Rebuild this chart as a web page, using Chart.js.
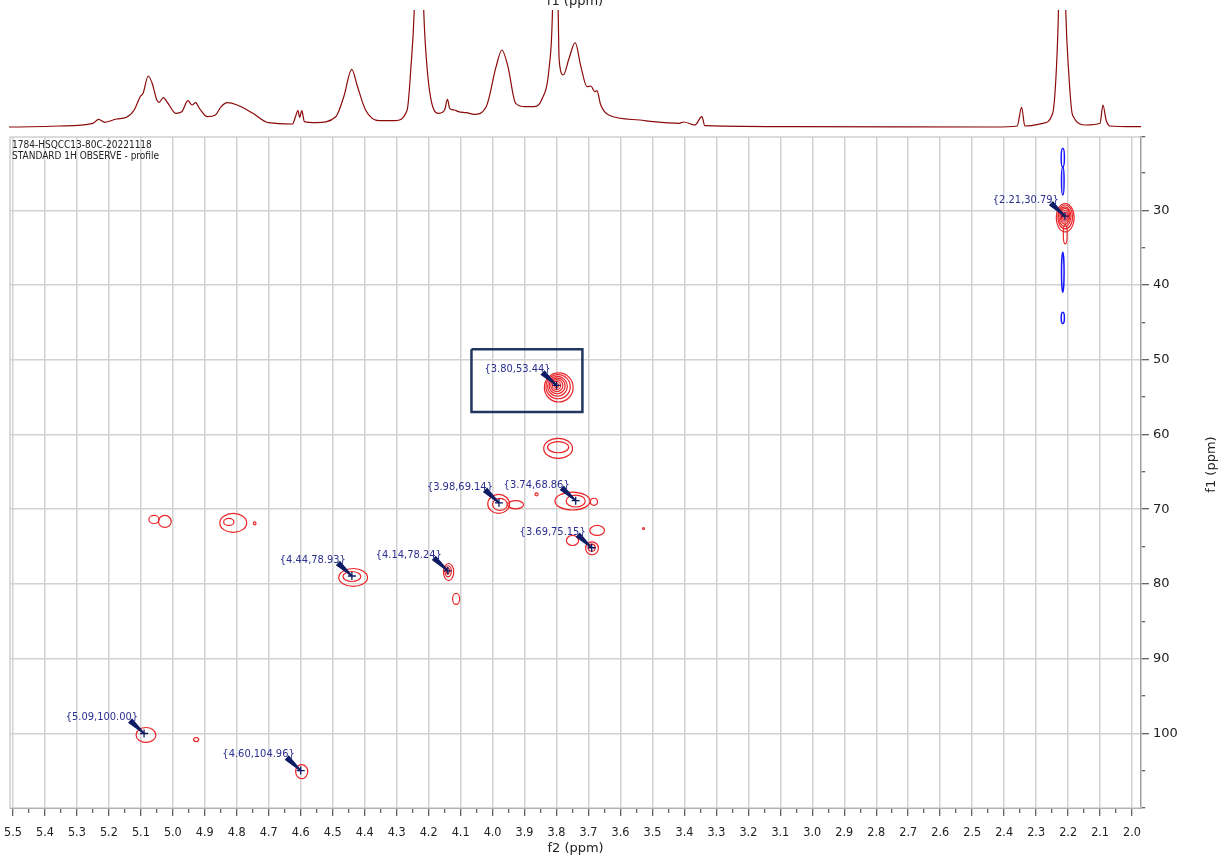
<!DOCTYPE html>
<html>
<head>
<meta charset="utf-8">
<script src="https://cdn.jsdelivr.net/npm/chart.js@4/dist/chart.umd.min.js"></script>
<style>
  html, body { margin: 0; padding: 0; background: #fff; overflow: hidden; }
  #wrap { position: relative; width: 1224px; height: 858px; overflow: hidden; }
  #mapBox { position: absolute; left: -5px; top: 0; width: 1229px; height: 858px; }
  #specBox { position: absolute; left: 0; top: 0; width: 1224px; height: 137px; }
</style>
</head>
<body>
<div id="wrap">
  <div id="mapBox"><canvas id="hsqc"></canvas></div>
  <div id="specBox"><canvas id="proton"></canvas></div>
</div>
<script>
// axis ranges (ppm)
const f2Min = 1.972, f2Max = 5.509;   // 1H, drawn reversed
const f1Min = 20.2, f1Max = 109.97;   // 13C, drawn reversed

const headerLines = ['1784-HSQCC13-80C-20221118', 'STANDARD 1H OBSERVE - profile'];

// 1H projection on top (shift, height above baseline)
const protonPpm = [5.53, 5.507, 5.352, 5.247, 5.229, 5.210, 5.173, 5.142, 5.118, 5.099, 5.090, 5.074, 5.062, 5.047, 5.040, 5.027, 5.013,
  4.988, 4.969, 4.950, 4.937, 4.926, 4.914, 4.889, 4.864, 4.846, 4.827, 4.796, 4.747, 4.698, 4.623, 4.614, 4.606, 4.601, 4.594, 4.586,
  4.549, 4.488, 4.463, 4.438, 4.420, 4.395, 4.352, 4.302, 4.265, 4.253, 4.243, 4.228, 4.213, 4.203, 4.185, 4.166, 4.148, 4.139, 4.132,
  4.117, 4.105, 4.080, 4.055, 4.018, 3.987, 3.969, 3.950, 3.926, 3.895, 3.870, 3.845, 3.821, 3.811, 3.802, 3.793, 3.790, 3.777, 3.759,
  3.740, 3.722, 3.703, 3.691, 3.679, 3.672, 3.660, 3.635, 3.539, 3.496, 3.415, 3.401, 3.366, 3.344, 3.335, 3.045, 2.427, 2.359, 2.345,
  2.335, 2.279, 2.248, 2.236, 2.230, 2.219, 2.207, 2.199, 2.186, 2.143, 2.100, 2.091, 2.081, 2.069, 1.995, 1.96];
const protonInt = [0, 0, 1, 3.7, 7.7, 4.7, 8, 9.7, 17, 30.3, 33.7, 51, 44, 27, 24.7, 29.3, 24,
  13.7, 15.3, 26.3, 22, 24.3, 18.7, 10.3, 12, 20.3, 24.3, 22, 13.7, 4.3, 3, 10.3, 16.3, 9.7, 16.3, 5.3,
  4.3, 10.3, 30.3, 57.7, 40.3, 17, 6.3, 6.3, 17, 60.3, 115, 300, 115, 60.3, 20.3, 13.7, 17, 27.7, 18.7,
  17, 15.3, 14.3, 12.7, 20.3, 60.3, 77, 60.3, 23.7, 20.3, 20.3, 27, 60.3, 115, 300, 115, 67, 52, 68.7,
  84.3, 60.3, 40.3, 41, 35.3, 36.3, 22, 12, 7, 5.3, 3.7, 5, 2, 10.3, 1.3, 0.3, 0, 1, 19.7,
  1, 3.7, 13.7, 60.3, 115, 300, 115, 60.3, 12, 2, 3.7, 22, 7, 1, 0.3, 0.3];

// labelled cross peaks (1H, 13C)
const peakH = [2.21, 3.80, 3.98, 3.74, 3.69, 4.14, 4.44, 5.09, 4.60];
const peakC = [30.79, 53.44, 69.14, 68.86, 75.15, 78.24, 78.93, 100.00, 104.96];

// positive contour rings: centre (1H, 13C) and half widths (ppm)
const posH  = [2.209, 2.209, 2.210, 2.210, 2.210, 2.210, 2.210, 2.209,
  3.793, 3.795, 3.797, 3.798, 3.799, 3.800, 3.800,
  3.795, 3.795,
  3.981, 3.928, 3.977,
  3.750, 3.740, 3.683, 3.8625,
  3.689, 3.690, 3.750, 3.673, 3.528,
  4.1375, 4.139, 4.140, 4.114,
  4.436, 4.440,
  4.811, 4.825, 4.744,
  5.059, 5.025,
  5.084, 4.927,
  4.597];
const posC  = [31.0, 30.9, 30.85, 30.8, 30.8, 30.8, 30.8, 33.2,
  53.7, 53.6, 53.55, 53.5, 53.45, 53.44, 53.44,
  61.86, 61.7,
  69.29, 69.4, 69.35,
  68.9, 68.9, 69.0, 68.0,
  75.23, 75.15, 74.18, 72.84, 72.57,
  78.4, 78.3, 78.24, 82.0,
  79.13, 79.0,
  71.83, 71.7, 71.9,
  71.37, 71.63,
  100.2, 100.82,
  105.1];
const posRH = [0.028, 0.023, 0.019, 0.015, 0.011, 0.0075, 0.004, 0.006,
  0.045, 0.038, 0.031, 0.025, 0.019, 0.013, 0.006,
  0.045, 0.033,
  0.034, 0.025, 0.023,
  0.055, 0.030, 0.011, 0.005,
  0.020, 0.011, 0.019, 0.023, 0.003,
  0.016, 0.010, 0.005, 0.011,
  0.045, 0.028,
  0.042, 0.016, 0.004,
  0.016, 0.020,
  0.031, 0.008,
  0.019];
const posRC = [1.90, 1.60, 1.30, 1.05, 0.80, 0.54, 0.27, 1.30,
  1.95, 1.62, 1.32, 1.05, 0.80, 0.54, 0.27,
  1.34, 0.74,
  1.27, 0.54, 0.80,
  1.20, 0.80, 0.47, 0.20,
  0.87, 0.47, 0.67, 0.67, 0.13,
  1.14, 0.74, 0.40, 0.74,
  1.20, 0.67,
  1.27, 0.47, 0.20,
  0.54, 0.80,
  1.00, 0.27,
  0.94];

// negative contour rings
const negH  = [2.2166, 2.2166, 2.2166, 2.2166];
const negC  = [22.97, 26.1, 38.3, 44.4];
const negRH = [0.005, 0.004, 0.004, 0.005];
const negRC = [1.27, 1.87, 2.68, 0.74];

// highlight box (1H from/to, 13C from/to)
const boxH = [4.066, 3.719];
const boxC = [48.6, 57.0];

const condFont = "'DejaVu Sans Condensed', 'DejaVu Sans', sans-serif";
const plainFont = "'DejaVu Sans', sans-serif";
const navy = '#0d1b62';
const labelBlue = '#2b2f8f';

const isMajorX = v => Math.abs(v * 10 - Math.round(v * 10)) < 1e-6;
const isMajorY = v => Math.abs(v / 10 - Math.round(v / 10)) < 1e-6;

const topTitle = {
  id: 'topTitle',
  afterDraw(chart) {
    const {ctx, chartArea} = chart;
    ctx.save();
    ctx.font = '13px ' + plainFont;
    ctx.fillStyle = '#222';
    ctx.textAlign = 'center';
    ctx.textBaseline = 'alphabetic';
    ctx.fillText('f1 (ppm)', (chartArea.left + chartArea.right) / 2, 5);
    ctx.restore();
  }
};

const contours = {
  id: 'contours',
  beforeDatasetsDraw(chart) {
    const {ctx, chartArea, scales: {x, y}} = chart;
    ctx.save();
    ctx.strokeStyle = '#cfcfcf';
    ctx.lineWidth = 1.5;
    ctx.strokeRect(chartArea.left, chartArea.top, chartArea.width, chartArea.height);
    ctx.beginPath();
    ctx.rect(chartArea.left, chartArea.top, chartArea.width, chartArea.height);
    ctx.clip();
    const rings = (hs, cs, rh, rc, color, lw) => {
      ctx.strokeStyle = color;
      ctx.lineWidth = lw;
      for (let i = 0; i < hs.length; i++) {
        const px = x.getPixelForValue(hs[i]);
        const py = y.getPixelForValue(cs[i]);
        const w = Math.abs(x.getPixelForValue(hs[i] + rh[i]) - px);
        const h = Math.abs(y.getPixelForValue(cs[i] + rc[i]) - py);
        ctx.beginPath();
        ctx.ellipse(px, py, w, h, 0, 0, Math.PI * 2);
        ctx.stroke();
      }
    };
    rings(negH, negC, negRH, negRC, '#1515ff', 1.5);
    rings(posH, posC, posRH, posRC, '#ea2428', 1.2);
    ctx.restore();
  },
  afterDatasetsDraw(chart) {
    const {ctx, chartArea, scales: {x, y}} = chart;
    ctx.save();
    // arrows + labels
    for (let i = 0; i < peakH.length; i++) {
      const px = x.getPixelForValue(peakH[i]);
      const py = y.getPixelForValue(peakC[i]);
      const sx = px - 14, sy = py - 13;
      const dx = px - sx, dy = py - sy, len = Math.hypot(dx, dy);
      const nx = -dy / len, ny = dx / len;
      ctx.fillStyle = navy;
      ctx.beginPath();
      ctx.moveTo(sx + nx * 3, sy + ny * 3);
      ctx.lineTo(px + nx * 0.8, py + ny * 0.8);
      ctx.lineTo(px - nx * 0.8, py - ny * 0.8);
      ctx.lineTo(sx - nx * 3, sy - ny * 3);
      ctx.closePath();
      ctx.fill();
      ctx.font = '11px ' + condFont;
      ctx.fillStyle = labelBlue;
      ctx.textAlign = 'right';
      ctx.textBaseline = 'middle';
      ctx.fillText('{' + peakH[i].toFixed(2) + ',' + peakC[i].toFixed(2) + '}', px - 6, py - 16);
    }
    // header
    ctx.font = '10px ' + condFont;
    ctx.fillStyle = '#222';
    ctx.textAlign = 'left';
    ctx.textBaseline = 'middle';
    ctx.fillText(headerLines[0], chartArea.left + 2, chartArea.top + 8);
    ctx.fillText(headerLines[1], chartArea.left + 2, chartArea.top + 19);
    // right axis title, reading upwards
    ctx.font = '13px ' + plainFont;
    ctx.textAlign = 'center';
    ctx.translate(chart.scales.y.right - 12, (chartArea.top + chartArea.bottom) / 2 - 8);
    ctx.rotate(-Math.PI / 2);
    ctx.fillText('f1 (ppm)', 0, 0);
    ctx.restore();
  }
};

new Chart(document.getElementById('proton'), {
  type: 'scatter',
  data: {
    datasets: [{
      data: protonPpm.map((v, i) => ({x: v, y: protonInt[i]})),
      showLine: true,
      borderColor: '#8b0a0a',
      borderWidth: 1.2,
      pointRadius: 0,
      cubicInterpolationMode: 'monotone'
    }]
  },
  options: {
    responsive: true,
    maintainAspectRatio: false,
    animation: false,
    layout: {padding: {left: 9, right: 83, top: 10, bottom: 9}},
    plugins: {legend: {display: false}, tooltip: {enabled: false}},
    scales: {
      x: {type: 'linear', display: false, reverse: true, min: f2Min, max: f2Max},
      y: {display: false, min: -1, max: 117}
    }
  },
  plugins: [topTitle]
});

new Chart(document.getElementById('hsqc'), {
  type: 'scatter',
  data: {
    datasets: [{
      data: [
        {x: boxH[0], y: boxC[0]}, {x: boxH[1], y: boxC[0]}, {x: boxH[1], y: boxC[1]},
        {x: boxH[0], y: boxC[1]}, {x: boxH[0], y: boxC[0]}
      ],
      showLine: true,
      borderColor: '#22375f',
      borderWidth: 2.5,
      borderJoinStyle: 'miter',
      pointRadius: 0
    }, {
      data: peakH.map((v, i) => ({x: v, y: peakC[i]})),
      pointStyle: 'cross',
      pointRadius: 4,
      borderColor: navy,
      borderWidth: 1.3,
      showLine: false
    }]
  },
  options: {
    responsive: true,
    maintainAspectRatio: false,
    animation: false,
    layout: {padding: {left: 9, right: 0, top: 137, bottom: 0}},
    plugins: {legend: {display: false}, tooltip: {enabled: false}},
    scales: {
      x: {
        type: 'linear',
        position: 'bottom',
        reverse: true,
        min: f2Min,
        max: f2Max,
        afterFit(scale) { scale.height = 50; },
        ticks: {
          stepSize: 0.05,
          includeBounds: false,
          autoSkip: false,
          maxRotation: 0,
          padding: 9,
          color: '#222',
          font: {family: condFont, size: 12.5},
          callback: v => (isMajorX(v) ? v.toFixed(1) : '')
        },
        grid: {
          color: c => (c.tick && isMajorX(c.tick.value) ? '#d2d2d2' : 'rgba(0,0,0,0)'),
          lineWidth: 1.5,
          tickLength: 8,
          tickColor: '#333',
          tickWidth: 1,
          tickBorderDash: c => (c.tick && isMajorX(c.tick.value) ? [] : [4, 40])
        },
        border: {color: '#555', width: 1},
        title: {display: true, text: 'f2 (ppm)', color: '#222', font: {family: plainFont, size: 13}, padding: {top: 0, bottom: 2}}
      },
      y: {
        type: 'linear',
        position: 'right',
        reverse: true,
        min: f1Min,
        max: f1Max,
        afterFit(scale) { scale.width = 83; },
        ticks: {
          stepSize: 5,
          autoSkip: false,
          padding: 4,
          color: '#222',
          font: {family: plainFont, size: 13},
          callback: v => (isMajorY(v) ? String(v) : '')
        },
        grid: {
          color: c => (c.tick && isMajorY(c.tick.value) ? '#d2d2d2' : 'rgba(0,0,0,0)'),
          lineWidth: 1.5,
          tickLength: 8,
          tickColor: '#333',
          tickWidth: 1,
          tickBorderDash: c => (c.tick && isMajorY(c.tick.value) ? [] : [4, 40])
        },
        border: {color: '#111', width: 1.2}
      }
    }
  },
  plugins: [contours]
});
</script>
</body>
</html>
